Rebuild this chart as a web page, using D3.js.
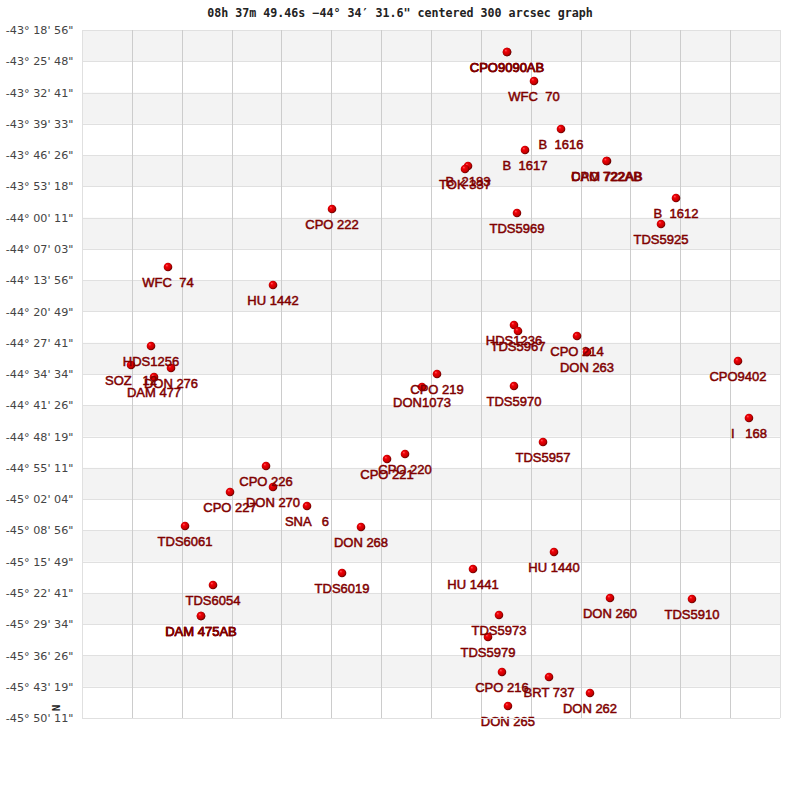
<!DOCTYPE html>
<html>
<head>
<meta charset="utf-8">
<script src="https://cdn.jsdelivr.net/npm/d3@7"></script>
<style>
    body { margin: 0; background: #fff; }
    svg { display: block; }
    .star-label { white-space: pre; }
</style>
</head>
<body>
<script>
var titleText = "08h 37m 49.46s \u221244\u00b0 34\u2032 31.6\" centered 300 arcsec graph";

// declination tick labels, top to bottom
var decLabels = ["-43\u00b0 18' 56\"", "-43\u00b0 25' 48\"", "-43\u00b0 32' 41\"", "-43\u00b0 39' 33\"",
    "-43\u00b0 46' 26\"", "-43\u00b0 53' 18\"", "-44\u00b0 00' 11\"", "-44\u00b0 07' 03\"",
    "-44\u00b0 13' 56\"", "-44\u00b0 20' 49\"", "-44\u00b0 27' 41\"", "-44\u00b0 34' 34\"",
    "-44\u00b0 41' 26\"", "-44\u00b0 48' 19\"", "-44\u00b0 55' 11\"", "-45\u00b0 02' 04\"",
    "-45\u00b0 08' 56\"", "-45\u00b0 15' 49\"", "-45\u00b0 22' 41\"", "-45\u00b0 29' 34\"",
    "-45\u00b0 36' 26\"", "-45\u00b0 43' 19\"", "-45\u00b0 50' 11\""];

// vertical grid divisions across the field
var raDivisions = d3.range(0, 15);

// stars: name, offset across (arcmin), offset in declination (arcmin) from field centre
var starNames = ["CPO9090AB", "CPO9090AB", "WFC  70", "B  1616", "B  1617", "B  2183", "TOK 337",
    "DAM 722AB", "CPO 722AB", "B  1612", "TDS5925", "TDS5969", "CPO 222", "WFC  74", "HU 1442",
    "HDS1236", "TDS5967", "CPO 214", "DON 263", "CPO9402", "HDS1256", "SOZ   12", "DON 276",
    "DAM 477", "CPO 219", "DON1073", "TDS5970", "I   168", "TDS5957", "CPO 220", "CPO 221",
    "CPO 226", "DON 270", "CPO 227", "SNA   6", "TDS6061", "DON 268", "HU 1440", "HU 1441",
    "TDS6019", "TDS6054", "DON 260", "TDS5910", "DAM 475AB", "DAM 475AB", "TDS5973", "TDS5979",
    "CPO 216", "BRT 737", "DON 262", "DON 265"];
var starRa = [16.47, 16.47, 22.32, 28.17, 20.37, 8.02, 7.37,
    38.14, 38.03, 53.09, 49.84, 18.63, -21.45, -56.99, -34.24,
    17.98, 18.85, 31.64, 33.80, 66.52, -60.67, -65.00, -56.34,
    -60.02, 1.30, -1.95, 17.98, 68.90, 24.27, -5.63, -9.53,
    -35.75, -34.24, -43.55, -26.87, -53.30, -15.17, 26.65, 9.10,
    -19.28, -47.24, 38.79, 56.55, -49.84, -49.84, 14.73, 12.35,
    15.38, 25.57, 34.45, 16.68];
var starDec = [70.79, 70.79, 64.41, 53.86, 49.24, 45.72, 45.07,
    46.82, 46.82, 38.69, 32.97, 35.39, 36.27, 23.52, 19.56,
    10.77, 9.45, 8.35, 4.84, 2.86, 6.16, 1.98, 1.32,
    -0.66, 0, -2.86, -2.64, -9.67, -14.95, -17.59, -18.69,
    -20.22, -24.84, -25.94, -29.02, -33.41, -33.63, -39.13, -42.87,
    -43.75, -46.38, -49.24, -49.46, -53.20, -53.20, -52.98, -57.82,
    -65.51, -66.61, -70.13, -72.98];

function main() {
    var width = 800, height = 800;
    var left = 82, right = 780, top = 30, bottom = 718;

    var svg = d3.select("body").append("svg")
        .attr("width", width)
        .attr("height", height);

    // ball marker
    var grad = svg.append("defs").append("radialGradient")
        .attr("id", "ball")
        .attr("cx", "45%").attr("cy", "45%").attr("r", "58%")
        .attr("fx", "35%").attr("fy", "30%");
    grad.append("stop").attr("offset", "0%").attr("stop-color", "#ff6060");
    grad.append("stop").attr("offset", "28%").attr("stop-color", "#f00008");
    grad.append("stop").attr("offset", "70%").attr("stop-color", "#c80000");
    grad.append("stop").attr("offset", "100%").attr("stop-color", "#500000");

    var x = d3.scaleLinear().domain([-75.625, 75.625]).range([left, right]);
    var y = d3.scaleLinear().domain([75.625, -75.625]).range([top, bottom]);
    var yTick = d3.scalePoint().domain(decLabels).range([top, bottom]);
    var xGrid = d3.scaleLinear().domain([0, 14]).range([left + 0.5, right + 0.5]);

    // alternating bands
    svg.append("g").selectAll("rect")
        .data(decLabels.slice(0, -1).filter(function (d, i) { return i % 2 == 0; }))
        .join("rect")
        .attr("x", left)
        .attr("y", function (d) { return yTick(d); })
        .attr("width", right - left)
        .attr("height", yTick.step())
        .attr("fill", "#f3f3f3");

    // horizontal grid and tick labels
    var yAxis = d3.axisLeft(yTick).tickSize(-(right - left)).tickPadding(8.5);
    var yG = svg.append("g").attr("transform", "translate(" + left + ",0)").call(yAxis);
    yG.select(".domain").remove();
    yG.selectAll("line").attr("stroke", "#e0e0e0").attr("shape-rendering", "crispEdges");
    yG.selectAll("text")
        .attr("fill", "#444")
        .style("font-family", "DejaVu Sans")
        .style("font-size", "11.2px");

    // vertical grid
    svg.append("g").selectAll("line")
        .data(raDivisions)
        .join("line")
        .attr("x1", function (d) { return xGrid(d); })
        .attr("x2", function (d) { return xGrid(d); })
        .attr("y1", top)
        .attr("y2", bottom)
        .attr("stroke", function (d) { return d == 0 || d == 14 ? "#e0e0e0" : "#ccc"; })
        .attr("shape-rendering", "crispEdges");

    var stars = starNames.map(function (name, i) {
        return { name: name, ra: starRa[i], dec: starDec[i] };
    });

    svg.append("g").selectAll("circle")
        .data(stars)
        .join("circle")
        .attr("cx", function (d) { return x(d.ra); })
        .attr("cy", function (d) { return y(d.dec); })
        .attr("r", 4.3)
        .attr("fill", "url(#ball)");

    svg.append("g").selectAll("text")
        .data(stars)
        .join("text")
        .attr("class", "star-label")
        .attr("x", function (d) { return x(d.ra); })
        .attr("y", function (d) { return y(d.dec) + 20; })
        .attr("text-anchor", "middle")
        .attr("fill", "#800000")
        .attr("stroke", "#800000")
        .attr("stroke-width", 0.5)
        .style("font-family", "Liberation Sans")
        .style("font-size", "13px")
        .text(function (d) { return d.name; });

    // bottom edge sits over the labels
    svg.append("line")
        .attr("x1", left).attr("x2", right)
        .attr("y1", bottom).attr("y2", bottom)
        .attr("stroke", "#e0e0e0")
        .attr("shape-rendering", "crispEdges");

    // title
    svg.append("text")
        .attr("x", 400)
        .attr("y", 17)
        .attr("text-anchor", "middle")
        .attr("fill", "#222")
        .style("font-family", "DejaVu Sans Mono")
        .style("font-weight", "bold")
        .style("font-size", "11.65px")
        .text(titleText);

    // north marker
    svg.append("text")
        .attr("transform", "translate(60,708) rotate(-90)")
        .attr("text-anchor", "middle")
        .attr("fill", "#222")
        .style("font-family", "DejaVu Sans Mono")
        .style("font-weight", "bold")
        .style("font-size", "11px")
        .text("N");
}

window.onload = main();
</script>
</body>
</html>
